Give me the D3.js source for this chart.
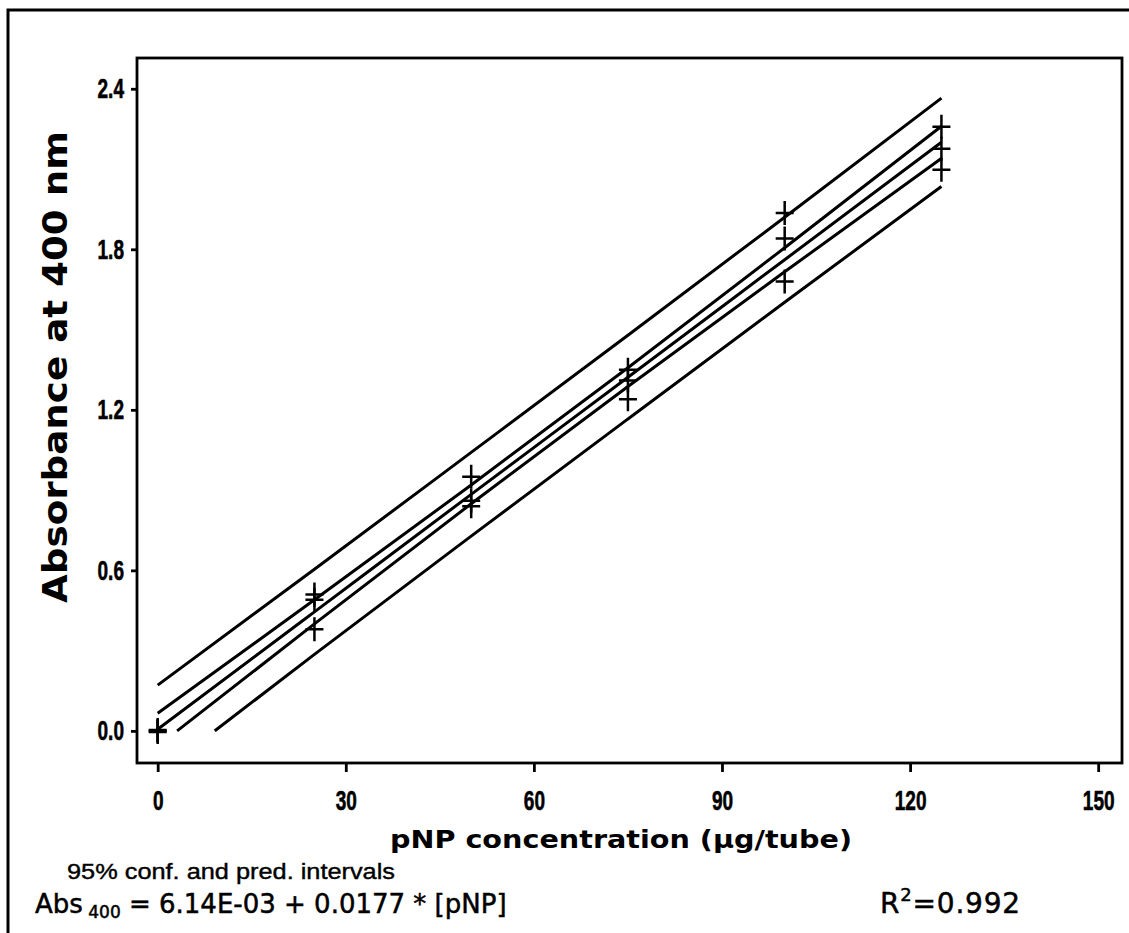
<!DOCTYPE html>
<html>
<head>
<meta charset="utf-8">
<script src="https://cdn.jsdelivr.net/npm/d3@7/dist/d3.min.js"></script>
<style>
  html, body { margin: 0; padding: 0; background: #fff; }
  svg { display: block; }
  .tick text { font-family: "Liberation Sans Narrow", "Arial Narrow", "Liberation Sans", sans-serif; font-weight: bold; }
</style>
</head>
<body>
<div id="chart"></div>
<script>
// pNP standard curve, three replicates per concentration
var conc = [0, 0, 0, 25, 25, 25, 50, 50, 50, 75, 75, 75, 100, 100, 100, 125, 125, 125];
var absorb = [0.003, 0.0, -0.004, 0.51, 0.49, 0.38, 0.95, 0.86, 0.84, 1.35, 1.31, 1.24, 1.936, 1.84, 1.68, 2.258, 2.176, 2.097];

// fitted line and 95% bands
var bandX = [0, 25, 50, 75, 100, 125];
var fitY = [0.006, 0.445, 0.884, 1.322, 1.761, 2.20];
var confUpY = [0.066, 0.490, 0.919, 1.357, 1.806, 2.26];
var confLoX = [3.1, 25, 50, 75, 100, 125];
var confLoY = [0.0, 0.400, 0.849, 1.287, 1.716, 2.14];
var predUpY = [0.171, 0.604, 1.041, 1.479, 1.920, 2.365];
var predLoX = [9.1, 25, 50, 75, 100, 125];
var predLoY = [0.0, 0.286, 0.728, 1.166, 1.602, 2.035];

var xTicks = [0, 30, 60, 90, 120, 150];
var yTicks = [0.0, 0.6, 1.2, 1.8, 2.4];

var width = 1129,
    height = 933,
    margin = {top: 58, right: 7, bottom: 170, left: 137};

var svg = d3.select('#chart')
  .append('svg')
  .attr('width', width)
  .attr('height', height);

// outer frame (left + top)
svg.append('path')
  .attr('d', 'M8,933V10H1129')
  .attr('fill', 'none')
  .attr('stroke', '#000')
  .attr('stroke-width', 3);

var x = d3.scaleLinear()
  .domain([-3.3, 153.8])
  .range([margin.left, width - margin.right]);

var y = d3.scaleLinear()
  .domain([-0.12, 2.515])
  .range([height - margin.bottom, margin.top]);

var xAxis = svg.append('g')
  .attr('transform', 'translate(0,' + (height - margin.bottom) + ')')
  .call(d3.axisBottom(x).tickValues(xTicks).tickSize(9).tickPadding(18)
    .tickFormat(d3.format('d')));

var yAxis = svg.append('g')
  .attr('transform', 'translate(' + margin.left + ',0)')
  .call(d3.axisLeft(y).tickValues(yTicks).tickSize(6).tickPadding(7)
    .tickFormat(d3.format('.1f')));

[xAxis, yAxis].forEach(function(a) {
  a.select('.domain').remove();
  a.selectAll('.tick line').attr('stroke', '#000').attr('stroke-width', 2.8);
  a.selectAll('.tick text')
    .attr('fill', '#000')
    .style('font-size', '28px')
    .style('stroke', '#000')
    .style('stroke-width', 0.6)
    .each(function() {
      // squeeze to look like a narrow bold face
      var w = this.getComputedTextLength();
      d3.select(this)
        .attr('textLength', w * 0.68)
        .attr('lengthAdjust', 'spacingAndGlyphs');
    });
});

// plot frame
svg.append('rect')
  .attr('x', margin.left)
  .attr('y', margin.top)
  .attr('width', width - margin.left - margin.right)
  .attr('height', height - margin.top - margin.bottom)
  .attr('fill', 'none')
  .attr('stroke', '#000')
  .attr('stroke-width', 2.8);

var line = d3.line()
  .x(function(d) { return x(d[0]); })
  .y(function(d) { return y(d[1]); })
  .curve(d3.curveMonotoneX);

var bands = [
  d3.zip(bandX, predUpY),
  d3.zip(bandX, confUpY),
  d3.zip(bandX, fitY),
  d3.zip(confLoX, confLoY),
  d3.zip(predLoX, predLoY)
];

svg.append('g').selectAll('path')
  .data(bands)
  .enter()
  .append('path')
  .attr('d', line)
  .attr('fill', 'none')
  .attr('stroke', '#000')
  .attr('stroke-width', 3);

// plus markers
var pts = d3.zip(conc, absorb);
svg.append('g').selectAll('path')
  .data(pts)
  .enter()
  .append('path')
  .attr('d', function(d) {
    var cx = x(d[0]), cy = y(d[1]);
    return 'M' + (cx - 9) + ',' + cy + 'H' + (cx + 9) +
           'M' + cx + ',' + (cy - 12) + 'V' + (cy + 12);
  })
  .attr('fill', 'none')
  .attr('stroke', '#000')
  .attr('stroke-width', 2.5);

// axis titles
svg.append('text')
  .attr('x', 390)
  .attr('y', 848)
  .attr('textLength', 462)
  .attr('lengthAdjust', 'spacingAndGlyphs')
  .style('font-family', '"DejaVu Sans", Verdana, sans-serif')
  .style('font-weight', 'bold')
  .style('font-size', '24px')
  .text('pNP concentration (µg/tube)');

svg.append('text')
  .attr('transform', 'translate(67,' + 603 + ') rotate(-90)')
  .attr('textLength', 472)
  .attr('lengthAdjust', 'spacingAndGlyphs')
  .style('font-family', '"DejaVu Sans", Verdana, sans-serif')
  .style('font-weight', 'bold')
  .style('font-size', '34px')
  .text('Absorbance at 400 nm');

// notes under the chart
svg.append('text')
  .attr('x', 67)
  .attr('y', 879)
  .attr('textLength', 328)
  .attr('lengthAdjust', 'spacingAndGlyphs')
  .style('font-family', '"Liberation Sans", Arial, sans-serif')
  .style('font-size', '22px')
  .style('stroke', '#000')
  .style('stroke-width', 0.4)
  .text('95% conf. and pred. intervals');

var eq = svg.append('text')
  .attr('x', 35)
  .attr('y', 913)
  .style('font-family', '"DejaVu Sans", Verdana, sans-serif')
  .style('font-size', '26px')
  .style('stroke', '#000')
  .style('stroke-width', 0.5);
eq.append('tspan').text('Abs');
eq.append('tspan').attr('dy', 5).style('font-size', '17px').text(' 400');
eq.append('tspan').attr('dy', -5).text(' = 6.14E-03 + 0.0177 * [pNP]');

var r2 = svg.append('text')
  .attr('x', 880)
  .attr('y', 913)
  .style('font-family', '"DejaVu Sans", Verdana, sans-serif')
  .style('font-size', '28px')
  .style('letter-spacing', '0.8px')
  .style('stroke', '#000')
  .style('stroke-width', 0.5);
r2.append('tspan').text('R');
r2.append('tspan').attr('dy', -12).style('font-size', '18px').text('2');
r2.append('tspan').attr('dy', 12).text('=0.992');
</script>
</body>
</html>
